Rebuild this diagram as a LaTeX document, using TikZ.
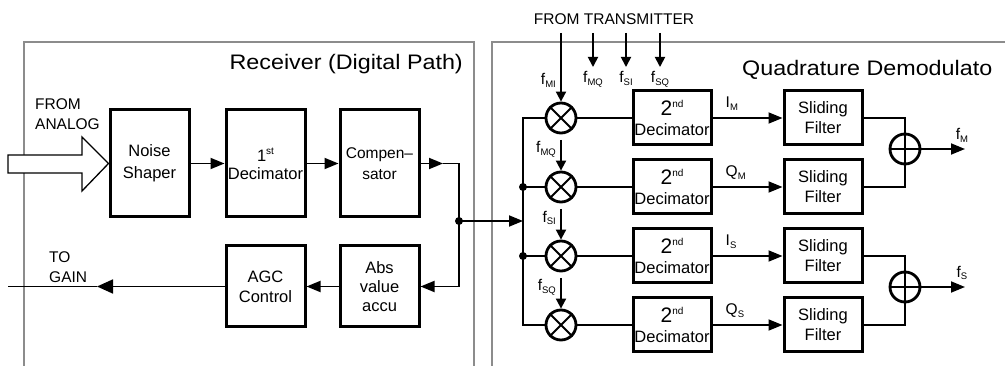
\documentclass[tikz,border=0pt]{standalone}
\usepackage{fontspec}
\setmainfont{Liberation Sans}
\newfontfamily\titlefont[FakeStretch=1.11]{Liberation Sans}
\usetikzlibrary{arrows.meta}

\definecolor{panelgray}{RGB}{140,140,140}
\newcommand{\lowidx}[1]{\raisebox{-0.35ex}{\fontsize{9.5}{9.5}\selectfont #1}}
\newcommand{\highidx}[1]{\raisebox{0.8ex}{\fontsize{10}{10}\selectfont #1}}

\begin{document}
\begin{tikzpicture}[
    x=1pt, y=-1pt,
    panel/.style={line width=2.8, color=panelgray},
    block/.style={draw, line width=3, minimum width=79, minimum height=107,
        inner sep=0, align=center, font=\fontsize{16.5}{20}\selectfont},
    wire/.style={line width=1.8},
    signal/.style={wire, -{Triangle[length=14pt, width=11pt]}},
    feed/.style={wire, -{Triangle[length=10pt, width=10pt]}},
    mixer/.style={draw, circle, line width=2.8, minimum size=30, inner sep=0},
    lab/.style={inner sep=0, align=left, font=\fontsize{15.5}{20}\selectfont},
    title/.style={inner sep=0, font=\titlefont\fontsize{21}{24}\selectfont}
    ]
    \useasboundingbox (0,0) rectangle (1005,366);
    % panels
    \draw[panel] (24,370) -- (24,42) -- (474,42) -- (474,370);
    \draw[panel] (492,370) -- (492,42) -- (1010,42);
    \node[title, anchor=east] (rxtitle) at (463,64) {Receiver (Digital Path)};
    \node[title, anchor=west] (qdtitle) at (742,70) {Quadrature Demodulato};
    % receiver blocks
    \node[block, font=\fontsize{16.5}{22}\selectfont] (ns) at (149.5,163.5) {Noise\\Shaper};
    \node[block, font=\fontsize{16.5}{18}\selectfont] (dec1) at (265.5,163.5) {1\highidx{st}\\Decimator};
    \node[block, font=\fontsize{15.5}{21}\selectfont] (comp) at (379.5,163.5) {Compen–\\sator};
    \node[block, minimum height=81] (agc) at (265.5,286.5) {AGC\\Control};
    \node[block, minimum height=81, font=\fontsize{16.5}{19}\selectfont] (abs) at (379.5,286.5) {Abs\\value\\accu};
    % input from analog
    \draw[wire, line width=1.3, fill=white] (8,155) -- (82,155) -- (82,137)
        -- (ns.west) -- (82,191) -- (82,173) -- (8,173) -- cycle;
    \node[lab, anchor=west] (fromana) at (35,114) {FROM\\ANALOG};
    % receiver connections
    \draw[signal] (ns) -- (dec1);
    \draw[signal] (dec1) -- (comp);
    \coordinate (ctip) at (443,163.5);
    \coordinate (turn) at (459,163.5);
    \coordinate (split) at (459,221);
    \draw[signal] (comp) -- (ctip);
    \draw[signal] (ctip) -- (turn) |- (abs);
    \fill (split) circle (4);
    \draw[signal] (abs) -- (agc);
    \coordinate (gaintip) at (97,286.5);
    \coordinate (gainend) at (8,286.5);
    \draw[signal, -{Triangle[length=16pt, width=14pt]}] (agc) -- (gaintip);
    \draw[wire] (gaintip) -- (gainend);
    \node[lab, anchor=west] (togain) at (49,267.5) {TO\\GAIN};
    % demodulator rows
    \foreach \i/\y/\lab/\fin in {1/118/{I\lowidx{M}}/{f\lowidx{MI}},
        2/187/{Q\lowidx{M}}/{f\lowidx{MQ}}, 3/256/{I\lowidx{S}}/{f\lowidx{SI}},
        4/325/{Q\lowidx{S}}/{f\lowidx{SQ}}} {
        \node[mixer] (m\i) at (561,\y) {};
        \draw[wire] (m\i.north west) -- (m\i.south east) (m\i.north east) -- (m\i.south west);
        \node[block, minimum width=78, minimum height=54] (d\i) at (672,\y)
            {{\fontsize{21}{21}\selectfont 2\highidx{nd}}\\Decimator};
        \node[block, minimum width=78, minimum height=54] (s\i) at (823,\y) {Sliding\\Filter};
        \draw[wire] (m\i) -- (d\i);
        \draw[signal] (d\i) -- (s\i);
        \node[lab, anchor=south west] (sig\i) at ([xshift=13, yshift=7]d\i.east) {\lab};
        \node[lab, anchor=east] (fin\i) at (556,{\y-38}) {\fin};
        \coordinate (in\i) at (561,{\y-47});
    }
    % mixer feeds
    \coordinate (in1) at (561,33);
    \foreach \i in {1,...,4}
        \draw[feed] (in\i) -- (m\i);
    % bus
    \coordinate (bt) at (523,118);
    \coordinate (bb) at (523,325);
    \draw[wire] (m1) -- (bt) -- (bb) -- (m4);
    \draw[wire] (m2) -- (m2 -| bt);
    \draw[wire] (m3) -- (m3 -| bt);
    \fill (m2 -| bt) circle (4);
    \fill (m3 -| bt) circle (4);
    \draw[signal] (split) -- (split -| bt);
    % from transmitter
    \node[lab] (fromtx) at (614,19) {FROM TRANSMITTER};
    \foreach \x/\lab in {593/MQ, 626/SI, 660/SQ} {
        \draw[feed] (\x,33) -- (\x,67);
        \node[lab, anchor=north] at (\x,71) {f\lowidx{\lab}};
    }
    % adders
    \node[mixer] (am) at (905,149) {};
    \node[mixer] (as) at (905,287) {};
    \foreach \a in {am, as}
        \draw[wire] (\a.north) -- (\a.south) (\a.west) -- (\a.east);
    \draw[wire] (s1) -| (am);
    \draw[wire] (s2) -| (am);
    \draw[wire] (s3) -| (as);
    \draw[wire] (s4) -| (as);
    \coordinate (outm) at (965,149);
    \coordinate (outs) at (965,287);
    \draw[signal] (am) -- (outm);
    \draw[signal] (as) -- (outs);
    \node[lab] (fm) at (962,135) {f\lowidx{M}};
    \node[lab] (fs) at (962,273) {f\lowidx{S}};
\end{tikzpicture}
\end{document}
